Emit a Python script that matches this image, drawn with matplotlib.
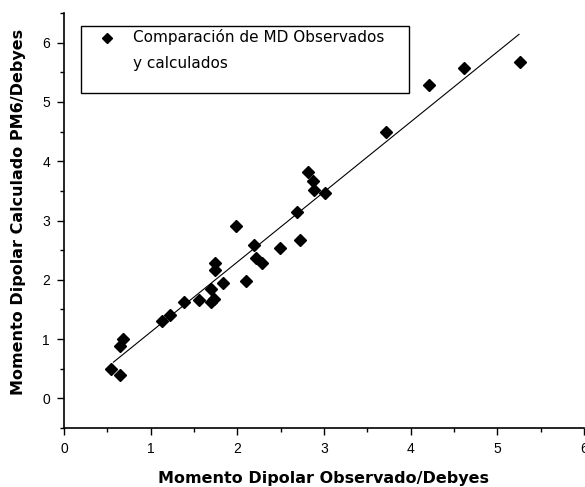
import matplotlib
matplotlib.use("Agg")
import matplotlib.pyplot as plt
from matplotlib.ticker import MultipleLocator
from matplotlib.patches import Rectangle

# dipole moments (Debyes)
md_observado = [0.54, 0.65, 0.65, 0.68, 1.13, 1.22, 1.38, 1.56, 1.70, 1.70, 1.73,
                1.74, 1.74, 1.84, 1.99, 2.10, 2.19, 2.22, 2.29, 2.49, 2.69, 2.72,
                2.81, 2.87, 2.88, 3.01, 3.72, 4.21, 4.62, 5.26]
md_calculado = [0.50, 0.40, 0.89, 1.00, 1.30, 1.40, 1.63, 1.66, 1.84, 1.62, 1.68,
                2.29, 2.17, 1.95, 2.91, 1.98, 2.58, 2.37, 2.29, 2.54, 3.14, 2.67,
                3.81, 3.66, 3.52, 3.46, 4.49, 5.29, 5.57, 5.68]

# fitted line end points
ajuste_x = [0.57, 5.25]
ajuste_y = [0.61, 6.14]

leyenda = ["Comparación de MD Observados", "y calculados"]

plt.rcParams['font.family'] = ['Liberation Sans', 'DejaVu Sans']

fig = plt.figure(figsize=(5.85, 4.87), dpi=100)
ax = fig.add_axes([64 / 585, 59 / 487, 520 / 585, 415 / 487])

ax.plot(ajuste_x, ajuste_y, color="black", linewidth=0.8)
ax.plot(md_observado, md_calculado, linestyle="none", marker="D", markersize=6,
        color="black")

ax.set_xlim(0, 6)
ax.set_ylim(-0.5, 6.5)
ax.xaxis.set_major_locator(MultipleLocator(1))
ax.xaxis.set_minor_locator(MultipleLocator(0.5))
ax.yaxis.set_major_locator(MultipleLocator(1))
ax.yaxis.set_minor_locator(MultipleLocator(0.5))
ax.set_yticks(range(0, 7))
ax.tick_params(which="major", direction="out", length=5, width=1, labelsize=10, pad=5)
ax.tick_params(which="minor", direction="out", length=3, width=1)

for s in ["top", "right"]:
    ax.spines[s].set_visible(False)
for s in ["left", "bottom"]:
    ax.spines[s].set_linewidth(1.2)

ax.set_xlabel("Momento Dipolar Observado/Debyes", fontsize=11.5, fontweight="bold",
              family=["DejaVu Sans"], labelpad=11)
ax.set_ylabel("Momento Dipolar Calculado PM6/Debyes", fontsize=11.5, fontweight="bold",
              family=["DejaVu Sans"], labelpad=10)
ax.yaxis.set_label_coords(-0.073, 0.52)

# legend box drawn by hand, like the original
ax.add_patch(Rectangle((0.033, 0.807), 0.63, 0.162, transform=ax.transAxes,
                       facecolor="white", edgecolor="black", linewidth=1, zorder=5))
ax.plot([0.082], [0.939], transform=ax.transAxes, marker="D", markersize=5,
        color="black", linestyle="none", zorder=6, clip_on=False)
ax.text(0.133, 0.941, leyenda[0], transform=ax.transAxes, fontsize=11,
        family=["DejaVu Sans"], va="center", ha="left", zorder=6)
ax.text(0.133, 0.879, leyenda[1], transform=ax.transAxes, fontsize=11,
        family=["DejaVu Sans"], va="center", ha="left", zorder=6)

fig.savefig("out.png", dpi=100)
